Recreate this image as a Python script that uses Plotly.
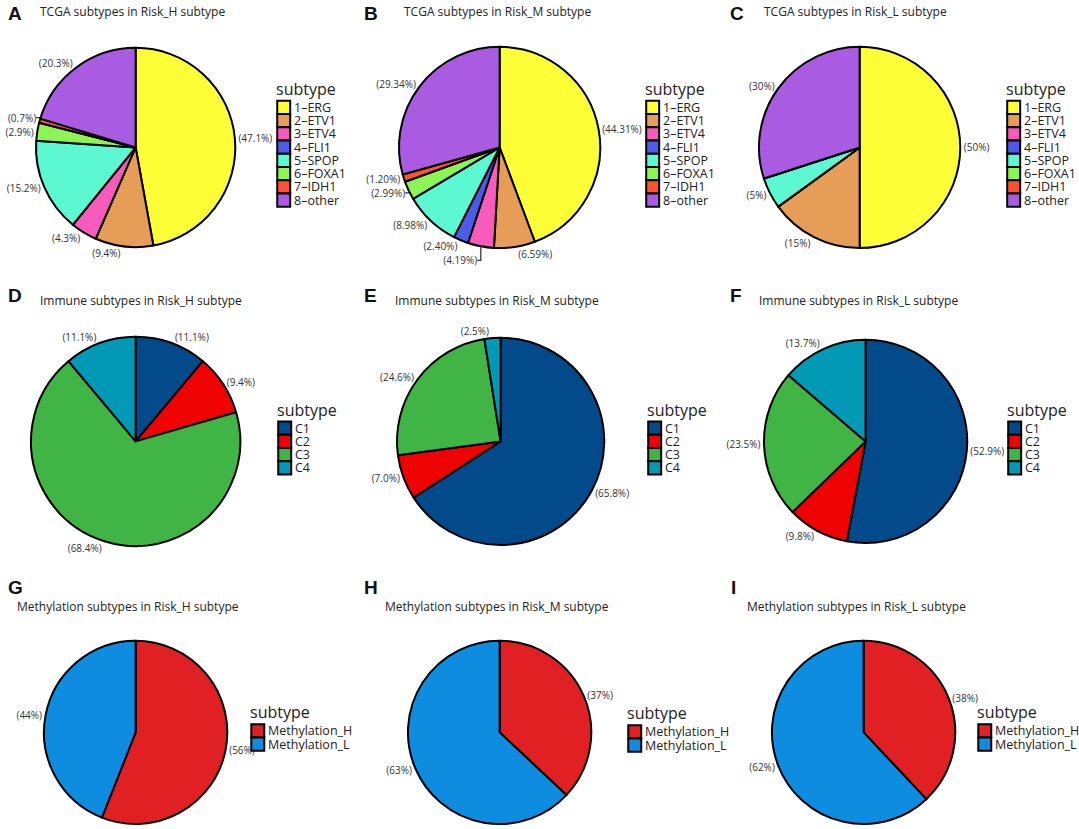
import plotly.graph_objects as go

W, H = 1079, 829

# ---------------- data ----------------
tcga_labels = ["1–ERG", "2–ETV1", "3–ETV4", "4–FLI1", "5–SPOP", "6–FOXA1", "7–IDH1", "8–other"]
tcga_colors = ["#FFFF38", "#E59D57", "#F75BBB", "#4E5BE6", "#5CF8D2", "#8CF454", "#FF5230", "#A95BE2"]
tcga_H = [47.1, 9.4, 4.3, 0, 15.2, 2.9, 0.7, 20.3]
tcga_M = [44.31, 6.59, 4.19, 2.40, 8.98, 2.99, 1.20, 29.34]
tcga_L = [50, 15, 0, 0, 5, 0, 0, 30]

immune_labels = ["C1", "C2", "C3", "C4"]
immune_colors = ["#034A8B", "#EE0202", "#40B444", "#0199B6"]
immune_H = [11.1, 9.4, 68.4, 11.1]
immune_M = [65.8, 7.0, 24.6, 2.5]
immune_L = [52.9, 9.8, 23.5, 13.7]

meth_labels = ["Methylation_H", "Methylation_L"]
meth_colors = ["#E02022", "#0E8DE0"]
meth_H = [56, 44]
meth_M = [37, 63]
meth_L = [38, 62]

legend_title = "subtype"
titles = [
    "TCGA subtypes in Risk_H subtype", "TCGA subtypes in Risk_M subtype", "TCGA subtypes in Risk_L subtype",
    "Immune subtypes in Risk_H subtype", "Immune subtypes in Risk_M subtype", "Immune subtypes in Risk_L subtype",
    "Methylation subtypes in Risk_H subtype", "Methylation subtypes in Risk_M subtype", "Methylation subtypes in Risk_L subtype",
]
letters = ["A", "B", "C", "D", "E", "F", "G", "H", "I"]

# ---------------- layout helpers (pixel geometry) ----------------
def px(x):
    return x / W

def py(y):
    return 1 - y / H

def dom(cx, cy, r):
    return dict(x=[px(cx - r), px(cx + r)], y=[py(cy + r), py(cy - r)])

panels = [
    # labels, values, colors, fmt, pie center/radius, legend box (left, top), letter pos, title pos
    (tcga_labels, tcga_H, tcga_colors, "{:.1f}", (133, 148, 100), (275, 101), (3, 14), (35, 12)),
    (tcga_labels, tcga_M, tcga_colors, "{:.2f}", (498, 148, 101), (645, 101), (360, 14), (400, 12)),
    (tcga_labels, tcga_L, tcga_colors, "{:.0f}", (859, 148, 101), (1007, 101), (727, 14), (761, 12)),
    (immune_labels, immune_H, immune_colors, "{:.1f}", (133, 443, 105), (276, 423), (3, 297), (35, 302)),
    (immune_labels, immune_M, immune_colors, "{:.1f}", (499, 443, 104), (647, 423), (360, 297), (391, 302)),
    (immune_labels, immune_L, immune_colors, "{:.1f}", (865, 443, 102), (1008, 423), (727, 297), (756, 302)),
    (meth_labels, meth_H, meth_colors, "{:.0f}", (133, 735, 92), (249, 727), (3, 590), (12, 609)),
    (meth_labels, meth_M, meth_colors, "{:.0f}", (498, 735, 92), (627, 728), (360, 590), (381, 609)),
    (meth_labels, meth_L, meth_colors, "{:.0f}", (863, 735, 92), (978, 727), (728, 590), (744, 609)),
]

BOX_W, BOX_H = 13, 13.3

fig = go.Figure()
annotations = []
shapes = []
for i, (labs, vals, cols, fmt, (cx, cy, r), (lx, ly), (ax_, ay_), (tx, ty)) in enumerate(panels):
    txt = ["(" + fmt.format(v) + "%)" if v > 0 else "" for v in vals]
    fig.add_trace(go.Pie(
        labels=labs, values=vals, text=txt, texttemplate="%{text}",
        textposition="outside", sort=False, direction="clockwise", rotation=0,
        marker=dict(colors=cols, line=dict(color="black", width=2)),
        textfont=dict(family="Open Sans", size=10, color="#333333"),
        domain=dom(cx, cy, r), showlegend=False, hoverinfo="label+percent",
    ))
    # panel letter and title
    annotations.append(dict(text=f"<b>{letters[i]}</b>", x=px(ax_), y=py(ay_), xref="paper", yref="paper",
                            xanchor="left", yanchor="middle", showarrow=False,
                            font=dict(family="Liberation Sans", size=19, color="#111111")))
    annotations.append(dict(text=titles[i], x=px(tx), y=py(ty), xref="paper", yref="paper",
                            xanchor="left", yanchor="middle", showarrow=False,
                            font=dict(family="Open Sans", size=12, color="#222222")))
    # legend (ggplot style: stacked keys with black borders)
    annotations.append(dict(text=legend_title, x=px(lx - 2), y=py(ly - 12), xref="paper", yref="paper",
                            xanchor="left", yanchor="middle", showarrow=False, borderpad=0,
                            font=dict(family="Open Sans", size=16, color="#222222")))
    for k, (lab, col) in enumerate(zip(labs, cols)):
        top = ly + k * BOX_H
        shapes.append(dict(type="rect", xref="paper", yref="paper",
                           x0=px(lx), x1=px(lx + BOX_W), y0=py(top + BOX_H), y1=py(top),
                           fillcolor=col, line=dict(color="black", width=2)))
        annotations.append(dict(text=lab, x=px(lx + BOX_W + 3), y=py(top + BOX_H / 2), xref="paper", yref="paper",
                                xanchor="left", yanchor="middle", showarrow=False, borderpad=0,
                                font=dict(family="Open Sans", size=12.5, color="#222222")))

fig.update_layout(
    width=W, height=H, margin=dict(l=0, r=0, t=0, b=0),
    paper_bgcolor="white", plot_bgcolor="white", showlegend=False,
    annotations=annotations, shapes=shapes,
)

# remove the default page margin so the figure sits exactly in the window
fig.write_html("out.html", config={"displayModeBar": False},
               post_script="document.body.style.margin='0';document.body.style.overflow='hidden';")
